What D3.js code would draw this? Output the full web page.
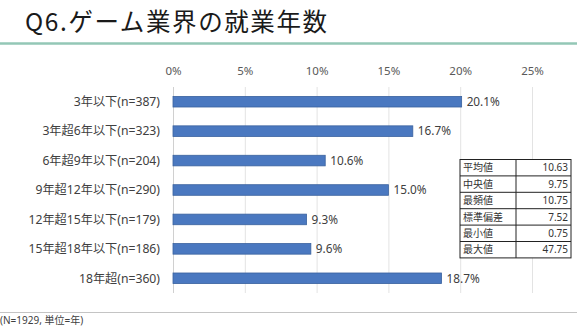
<!DOCTYPE html>
<html>
<head>
<meta charset="utf-8">
<script src="https://cdn.jsdelivr.net/npm/d3@7"></script>
<style>
  html, body { margin: 0; padding: 0; background: #ffffff; }
  svg { display: block; font-family: "Noto Sans", "Noto Sans CJK JP", sans-serif; }
</style>
</head>
<body>
<svg id="chart" width="580" height="328"></svg>
<script>
// Years of employment in the game industry (share of respondents)
const categories = [
  "3年以下(n=387)",
  "3年超6年以下(n=323)",
  "6年超9年以下(n=204)",
  "9年超12年以下(n=290)",
  "12年超15年以下(n=179)",
  "15年超18年以下(n=186)",
  "18年超(n=360)"
];
const shares = [20.1, 16.7, 10.6, 15.0, 9.3, 9.6, 18.7];
const xTicks = [0, 5, 10, 15, 20, 25];

// Summary statistics table (years)
const statLabels = ["平均値", "中央値", "最頻値", "標準偏差", "最小値", "最大値"];
const statValues = ["10.63", "9.75", "10.75", "7.52", "0.75", "47.75"];

const titleText = "Q6.ゲーム業界の就業年数";
const footnote = "(N=1929, 単位=年)";

const svg = d3.select("#chart");

// Title and rule below it
svg.append("text")
  .attr("x", 25).attr("y", 30.5)
  .attr("font-family", "'Noto Sans CJK JP', sans-serif")
  .attr("font-size", 24.5)
  .attr("letter-spacing", 1.6)
  .attr("fill", "#1a1a1a")
  .text(titleText);

svg.append("line")
  .attr("x1", 0).attr("x2", 577)
  .attr("y1", 43.5).attr("y2", 43.5)
  .attr("stroke", "#93c7b6").attr("stroke-width", 2.5);

// Scales
const x = d3.scaleLinear().domain([0, 25]).range([173, 532]);
const y = d3.scaleBand().domain(categories).range([87, 293])
  .paddingInner(0.64).paddingOuter(0.32);

// Vertical gridlines
svg.append("g").selectAll("line")
  .data(xTicks)
  .join("line")
  .attr("x1", d => x(d) + 0.5).attr("x2", d => x(d) + 0.5)
  .attr("y1", 87).attr("y2", 293)
  .attr("stroke", d => d === 0 ? "#d0d0d0" : "#e3e3e3")
  .attr("stroke-width", 1);

// Top axis labels
const xAxis = d3.axisTop(x)
  .tickValues(xTicks)
  .tickFormat(d => d + "%")
  .tickSize(0)
  .tickPadding(0);
const axisG = svg.append("g")
  .attr("transform", "translate(0,75)")
  .call(xAxis);
axisG.select(".domain").remove();
axisG.selectAll("text")
  .attr("font-size", 11.5)
  .attr("fill", "#595959")
  .attr("font-family", "'Noto Sans', sans-serif");

// Category labels
svg.append("g").selectAll("text")
  .data(categories)
  .join("text")
  .attr("x", 160)
  .attr("y", d => y(d) + y.bandwidth() / 2)
  .attr("dy", "0.35em")
  .attr("text-anchor", "end")
  .attr("font-size", 12.2)
  .attr("fill", "#404040")
  .text(d => d);

// Bars
svg.append("g").selectAll("rect")
  .data(shares)
  .join("rect")
  .attr("x", x(0))
  .attr("y", (d, i) => y(categories[i]))
  .attr("width", d => x(d) - x(0))
  .attr("height", y.bandwidth())
  .attr("fill", "#4a78c0")
  .attr("stroke", "#3a629e")
  .attr("stroke-width", 0.8);

// Value labels
svg.append("g").selectAll("text")
  .data(shares)
  .join("text")
  .attr("x", d => x(d) + 5)
  .attr("y", (d, i) => y(categories[i]) + y.bandwidth() / 2)
  .attr("dy", "0.36em")
  .attr("font-size", 11.8)
  .attr("fill", "#404040")
  .text(d => d.toFixed(1) + "%");

// Statistics table
const tLeft = 460, tMid = 516, tRight = 571, tTop = 159.5, rowH = 16.4;
const rows = d3.range(statLabels.length);
const table = svg.append("g");
table.append("rect")
  .attr("x", tLeft).attr("y", tTop)
  .attr("width", tRight - tLeft).attr("height", rowH * statLabels.length)
  .attr("fill", "#ffffff").attr("stroke", "#222").attr("stroke-width", 1);
table.selectAll("line.row")
  .data(rows.slice(1))
  .join("line")
  .attr("class", "row")
  .attr("x1", tLeft).attr("x2", tRight)
  .attr("y1", i => tTop + i * rowH).attr("y2", i => tTop + i * rowH)
  .attr("stroke", "#222").attr("stroke-width", 1);
table.append("line")
  .attr("x1", tMid).attr("x2", tMid)
  .attr("y1", tTop).attr("y2", tTop + rowH * statLabels.length)
  .attr("stroke", "#222").attr("stroke-width", 1);
table.selectAll("text.lab")
  .data(statLabels)
  .join("text")
  .attr("class", "lab")
  .attr("x", tLeft + 3)
  .attr("y", (d, i) => tTop + i * rowH + rowH / 2)
  .attr("dy", "0.36em")
  .attr("font-size", 10)
  .attr("fill", "#333")
  .text(d => d);
table.selectAll("text.val")
  .data(statValues)
  .join("text")
  .attr("class", "val")
  .attr("x", tRight - 3)
  .attr("y", (d, i) => tTop + i * rowH + rowH / 2)
  .attr("dy", "0.36em")
  .attr("text-anchor", "end")
  .attr("font-size", 10)
  .attr("fill", "#333")
  .text(d => d);

// Bottom rule and footnote
svg.append("line")
  .attr("x1", 0).attr("x2", 577)
  .attr("y1", 312.5).attr("y2", 312.5)
  .attr("stroke", "#c4c4c4").attr("stroke-width", 1);

svg.append("text")
  .attr("x", 0).attr("y", 324)
  .attr("font-size", 10)
  .attr("fill", "#404040")
  .text(footnote);
</script>
</body>
</html>
